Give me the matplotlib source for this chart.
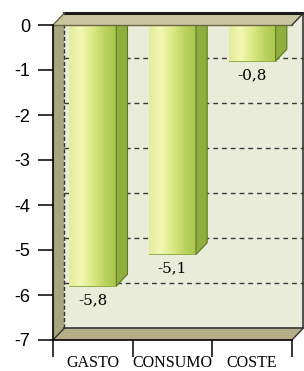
import matplotlib.pyplot as plt
import numpy as np
from matplotlib.colors import LinearSegmentedColormap
from matplotlib.patches import Polygon

categories = ['GASTO', 'CONSUMO', 'COSTE']
values = [-5.8, -5.1, -0.8]
value_labels = ['-5,8', '-5,1', '-0,8']
yticks = [0, -1, -2, -3, -4, -5, -6, -7]


def face(ax, pts, color, z, **kw):
    p = Polygon(pts, closed=True, facecolor=color, zorder=z, clip_on=False, **kw)
    ax.add_patch(p)
    return p


def main():
    fig = plt.figure(figsize=(3.04, 3.71), dpi=100)
    ax = fig.add_axes([53 / 304, 31 / 371, 239 / 304, 315 / 371])

    n = len(categories)
    ymin = yticks[-1]
    dx, dy = 0.14, 0.26   # depth offset (x units, y units)

    # walls
    face(ax, [(dx, ymin + dy), (n + dx, ymin + dy), (n + dx, dy), (dx, dy)], '#e8ecd8', 0, lw=0)
    for t in yticks[1:-1]:
        ax.plot([dx, n + dx], [t + dy, t + dy], color='#3a3a3a', lw=1.0,
                ls=(0, (3.5, 2.8)), zorder=1, clip_on=False)
    face(ax, [(0, 0), (dx, dy), (dx, ymin + dy), (0, ymin)], '#a9a57e', 2, lw=0)
    face(ax, [(0, ymin), (dx, ymin + dy), (n + dx, ymin + dy), (n, ymin)], '#b5ae88', 2, lw=0)
    ax.plot([dx, dx], [ymin + dy, dy], color='#333333', lw=1.0, ls=(0, (3, 1.5)), zorder=2.5, clip_on=False)
    ax.plot([dx, n + dx], [ymin + dy, ymin + dy], color='#333333', lw=1.2, zorder=2.5, clip_on=False)
    ax.plot([n + dx, n + dx], [ymin + dy, dy], color='#333333', lw=1.2, zorder=2.5, clip_on=False)
    ax.plot([0, dx], [ymin, ymin + dy], color='#333333', lw=1.0, zorder=2.5, clip_on=False)
    ax.plot([n, n + dx], [ymin, ymin + dy], color='#333333', lw=1.0, zorder=2.5, clip_on=False)

    # bars
    x = np.arange(n) + 0.5
    w = 0.59
    bars = ax.bar(x, values, width=w, color='#d4e47a', edgecolor='#86a23a', lw=0.6, zorder=3)
    cmap = LinearSegmentedColormap.from_list('g', ['#e4ec9c', '#f2f7b2', '#dbe985', '#bcd35f', '#a9c44c'])
    grad = np.linspace(0, 1, 64).reshape(1, -1)
    for b, v in zip(bars, values):
        x0 = b.get_x()
        im = ax.imshow(grad, extent=[x0, x0 + w, v, 0], aspect='auto', cmap=cmap, zorder=3.1)
        im.set_clip_path(b)
        r = x0 + w
        face(ax, [(r, 0), (r + dx, dy), (r + dx, v + dy), (r, v)], '#8fae3e', 3.2,
             edgecolor='#5a7a1e', lw=0.8)

    # zero plane on top
    face(ax, [(0, 0), (dx, dy), (n + dx, dy), (n, 0)], '#c9c59f', 4, lw=0)
    ax.plot([dx, n + dx], [dy, dy], color='#1a1a1a', lw=2.2, zorder=4.5, clip_on=False)
    ax.plot([0, n], [0, 0], color='#6a6748', lw=1.0, zorder=4.5, clip_on=False)
    ax.plot([0, dx], [0, dy], color='#6a6748', lw=1.0, zorder=4.5, clip_on=False)
    ax.plot([n, n + dx], [0, dy], color='#333333', lw=1.0, zorder=4.5, clip_on=False)

    for xi, v, lab in zip(x, values, value_labels):
        ax.annotate(lab, (xi, v), xytext=(0, -5), textcoords='offset points',
                    ha='center', va='top', fontsize=11, family='DejaVu Serif', zorder=6)

    ax.set_xlim(0, n)
    ax.set_ylim(ymin, 0)
    ax.set_facecolor('none')

    ax.set_yticks(yticks)
    ax.set_yticklabels([str(t) for t in yticks], family='Liberation Sans', fontsize=13)
    ax.tick_params(axis='y', direction='out', length=11, width=1.1, pad=5.5, color='black')

    ax.set_xticks(x)
    ax.set_xticklabels(categories, family='Liberation Serif', fontsize=11.5)
    ax.set_xticks(np.arange(n + 1), minor=True)
    ax.tick_params(axis='x', which='major', length=0, pad=11)
    ax.tick_params(axis='x', which='minor', direction='out', length=12, width=1.1)

    for s in ['top', 'right']:
        ax.spines[s].set_visible(False)
    for s in ['left', 'bottom']:
        ax.spines[s].set_linewidth(1.2)
        ax.spines[s].set_zorder(5)

    fig.savefig('out.png', dpi=100)


if __name__ == '__main__':
    main()
